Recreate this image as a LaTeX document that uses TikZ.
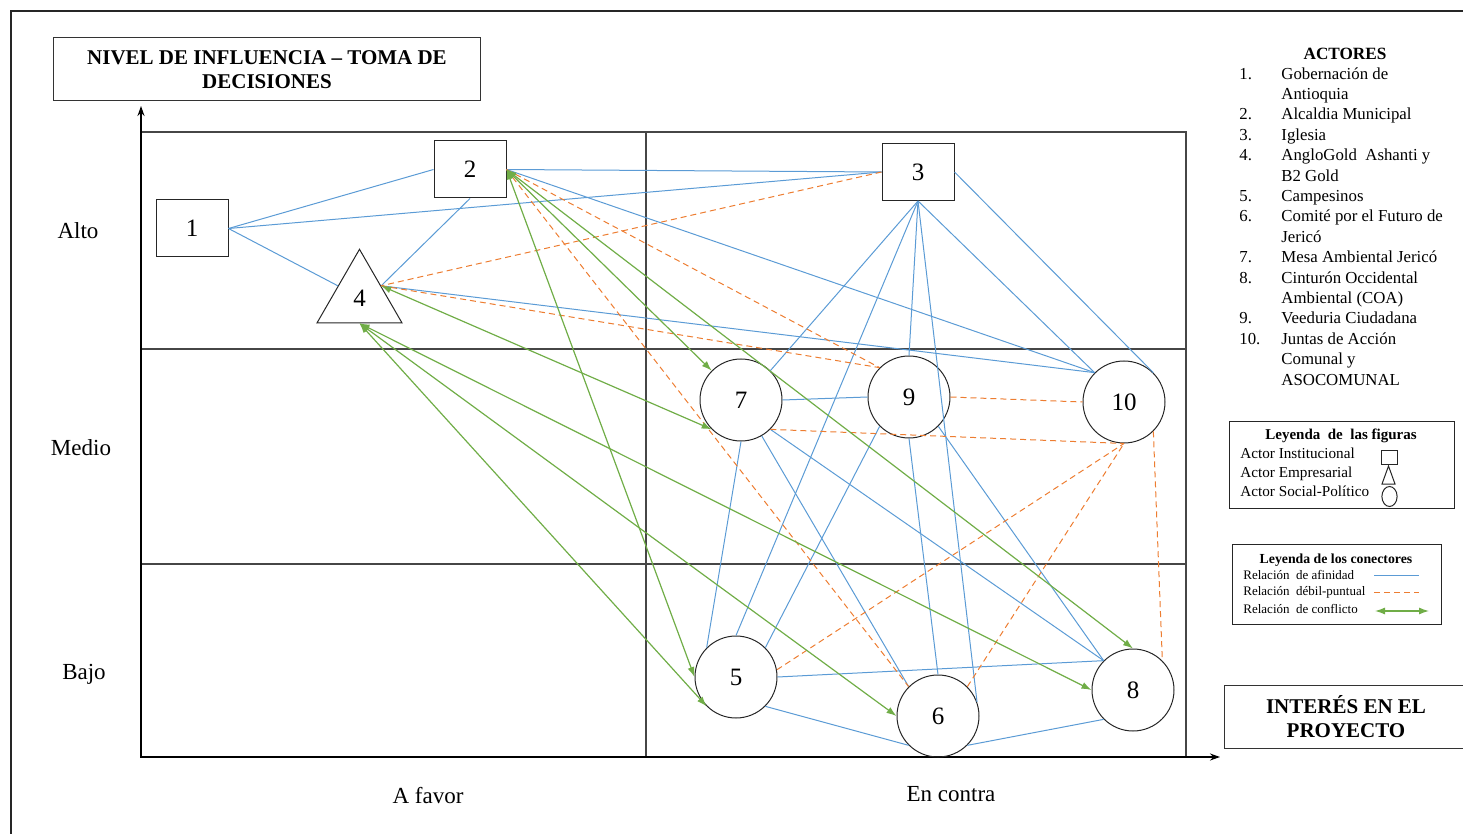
\documentclass[tikz,border=0pt]{standalone}
\usepackage{fontspec}
\setmainfont{Liberation Serif}
\usetikzlibrary{shapes.geometric,arrows.meta}
\definecolor{azul}{RGB}{91,155,213}
\definecolor{naranja}{RGB}{237,125,49}
\definecolor{verde}{RGB}{112,173,71}
\definecolor{gris}{RGB}{70,70,70}
\tikzstyle{institucional} = [draw=black!85,line width=0.5pt,minimum width=36pt,minimum height=28.5pt,inner sep=0pt,font=\fontsize{12.5}{15}\selectfont]
\tikzstyle{empresarial} = [draw=black!85,line width=0.5pt,regular polygon,regular polygon sides=3,minimum size=49pt,inner sep=0pt,font=\fontsize{12.5}{15}\selectfont]
\tikzstyle{social} = [draw=black!85,line width=0.5pt,circle,minimum size=41pt,inner sep=0pt,font=\fontsize{12.5}{15}\selectfont]
\tikzstyle{nivel} = [font=\fontsize{11.5}{14}\selectfont]
\tikzstyle{titulo} = [draw=black!80,line width=0.5pt,align=center,font=\bfseries\fontsize{10.5}{12.25}\selectfont]
\tikzstyle{lista} = [anchor=west,inner sep=0pt,text height=6pt,text depth=1.8pt,font=\fontsize{8.4}{10}\selectfont]
\tikzstyle{leyenda} = [anchor=west,inner sep=0pt,text height=5.5pt,text depth=1.6pt,font=\fontsize{7.6}{9}\selectfont]
\tikzstyle{leyendacon} = [anchor=west,inner sep=0pt,text height=5pt,text depth=1.4pt,font=\fontsize{6.5}{8}\selectfont]
\tikzstyle{afin} = [azul,line width=0.5pt]
\tikzstyle{puntual} = [naranja,line width=0.5pt,dash pattern=on 3pt off 2pt]
\tikzstyle{conflicto} = [verde,line width=0.6pt,{Latex[length=5pt,width=3.5pt]}-{Latex[length=5pt,width=3.5pt]}]
\tikzstyle{rejilla} = [gris,line width=0.7pt]
\tikzstyle{eje} = [black,line width=1pt,-{Stealth[length=5pt,width=3.5pt]}]

\begin{document}
\begin{tikzpicture}[x=0.5pt,y=-0.5pt]
	\useasboundingbox (0,0) rectangle (1463,834);
	\draw[black!85,line width=1pt] (11,840) -- (11,11) -- (1470,11);
	% cuadrantes y ejes
	\draw[rejilla] (141,132) -- (1186,132) -- (1186,757);
	\draw[rejilla] (141,349) -- (1186,349);
	\draw[rejilla] (141,564) -- (1186,564);
	\draw[rejilla] (646,132) -- (646,757);
	\draw[eje] (141,757.5) -- (141,106);
	\draw[eje] (140.5,757) -- (1220,757);
	\node[titulo,minimum width=213.5pt,minimum height=31.5pt] (influencia) at (267,69.5) {NIVEL DE INFLUENCIA – TOMA DE\\DECISIONES};
	\node[titulo,minimum width=122pt,minimum height=31.5pt] (interes) at (1346,716.5) {INTERÉS EN EL\\PROYECTO};
	\node[nivel] (alto) at (78,231) {Alto};
	\node[nivel] (medio) at (81,448) {Medio};
	\node[nivel] (bajo) at (84,674) {Bajo};
	\node[nivel] (afavor) at (428,796) {A favor};
	\node[nivel] (encontra) at (951,794) {En contra};
	% actores
	\node[institucional] (n1) at (192,228.5) {1};
	\node[institucional] (n2) at (470,169.5) {2};
	\node[institucional] (n3) at (918,172) {3};
	\node[empresarial] (n4) at (359.5,298.3) {4};
	\node[social] (n7) at (741,400) {7};
	\node[social] (n9) at (909,397) {9};
	\node[social] (n10) at (1124,402) {10};
	\node[social] (n5) at (736,677) {5};
	\node[social] (n6) at (938,716) {6};
	\node[social] (n8) at (1133,690) {8};
	% relacion de afinidad
	\draw[afin] (n1.east) -- (n2.west);
	\draw[afin] (n1.east) -- (n3.west);
	\draw[afin] (n1.east) -- (n4.side 1);
	\draw[afin] (n2.south) -- (n4.side 3);
	\draw[afin] (n2.east) -- (n3.west);
	\draw[afin] (n2.east) -- (n10.north west);
	\draw[afin] (n4.side 3) -- (n10.north west);
	\draw[afin] (n3.south) -- (n7.north east);
	\draw[afin] (n3.south) -- (n5.north);
	\draw[afin] (n3.south) -- (n9.north);
	\draw[afin] (n3.south) -- (n6.20);
	\draw[afin] (n3.south) -- (n10.north west);
	\draw[afin] (n3.east) -- (n10.north east);
	\draw[afin] (n7.east) -- (n9.west);
	\draw[afin] (n7.south) -- (n5.north west);
	\draw[afin] (n7.-60) -- (n6.north west);
	\draw[afin] (n7.south east) -- (n8.north west);
	\draw[afin] (n9.south west) -- (n5.north east);
	\draw[afin] (n9.south) -- (n6.north);
	\draw[afin] (n9.south east) -- (n8.north west);
	\draw[afin] (n5.east) -- (n8.north west);
	\draw[afin] (n5.south east) -- (n6.south west);
	\draw[afin] (n6.south east) -- (n8.south west);
	% relacion debil-puntual
	\draw[puntual] (n3.west) -- (n4.side 3);
	\draw[puntual] (n2.east) -- (n9.north west);
	\draw[puntual] (n4.side 3) -- (n9.north west);
	\draw[puntual] (n2.east) -- (n6.north west);
	\draw[puntual] (n9.east) -- (n10.west);
	\draw[puntual] (n7.south east) -- (n10.south);
	\draw[puntual] (n5.10) -- (n10.south);
	\draw[puntual] (n6.north east) -- (n10.south);
	\draw[puntual] (n10.south east) -- (n8.north east);
	% relacion de conflicto
	\draw[conflicto] (n2.east) -- (n5.west);
	\draw[conflicto] (n2.east) -- (n7.north west);
	\draw[conflicto] (n2.east) -- (n8.north);
	\draw[conflicto] (n4.side 3) -- (n7.south west);
	\draw[conflicto] (n4.side 2) -- (n5.south west);
	\draw[conflicto] (n4.side 2) -- (n6.west);
	\draw[conflicto] (n4.side 2) -- (n8.west);
	% lista de actores
	\node[font=\bfseries\fontsize{8.6}{10}\selectfont] (actores) at (1345,54) {ACTORES};
	\node[lista] (num1) at (1239,75) {1.};
	\node[lista] (num2) at (1239,115.8) {2.};
	\node[lista] (num3) at (1239,136.2) {3.};
	\node[lista] (num4) at (1239,156.6) {4.};
	\node[lista] (num5) at (1239,197.4) {5.};
	\node[lista] (num6) at (1239,217.8) {6.};
	\node[lista] (num7) at (1239,258.6) {7.};
	\node[lista] (num8) at (1239,279) {8.};
	\node[lista] (num9) at (1239,319.8) {9.};
	\node[lista] (num10) at (1239,340.2) {10.};
	\node[lista] (act1a) at (1281,75) {Gobernación de};
	\node[lista] (act1b) at (1281,95.4) {Antioquia};
	\node[lista] (act2) at (1281,115.8) {Alcaldia Municipal};
	\node[lista] (act3) at (1281,136.2) {Iglesia};
	\node[lista] (act4a) at (1281,156.6) {AngloGold\ \ Ashanti y};
	\node[lista] (act4b) at (1281,177) {B2 Gold};
	\node[lista] (act5) at (1281,197.4) {Campesinos};
	\node[lista] (act6a) at (1281,217.8) {Comité por el Futuro de};
	\node[lista] (act6b) at (1281,238.2) {Jericó};
	\node[lista] (act7) at (1281,258.6) {Mesa Ambiental Jericó};
	\node[lista] (act8a) at (1281,279) {Cinturón Occidental};
	\node[lista] (act8b) at (1281,299.4) {Ambiental (COA)};
	\node[lista] (act9) at (1281,319.8) {Veeduria Ciudadana};
	\node[lista] (act10a) at (1281,340.2) {Juntas de Acción};
	\node[lista] (act10b) at (1281,360.6) {Comunal y};
	\node[lista] (act10c) at (1281,381) {ASOCOMUNAL};
	% leyenda de las figuras
	\node[draw=black!85,line width=0.5pt,minimum width=112.5pt,minimum height=43pt] (legfig) at (1341.5,465) {};
	\node[font=\bfseries\fontsize{7.5}{9}\selectfont] (legfigtit) at (1341,436) {Leyenda\ \ de\ \ las figuras};
	\node[leyenda] (linst) at (1240,455) {Actor Institucional};
	\node[leyenda] (lemp) at (1240,473.5) {Actor Empresarial};
	\node[leyenda] (lsoc) at (1240,492.5) {Actor Social-Político};
	\draw[black!85,line width=0.5pt] (1381,450) rectangle (1397,464);
	\draw[black!85,line width=0.5pt] (1382,484) -- (1388.5,466) -- (1395,484) -- cycle;
	\draw[black!85,line width=0.5pt] (1389.5,496.5) ellipse [x radius=3.8pt,y radius=5pt];
	% leyenda de los conectores
	\node[draw=black!85,line width=0.5pt,minimum width=104.5pt,minimum height=40pt] (legcon) at (1336.5,584) {};
	\node[font=\bfseries\fontsize{6.9}{8}\selectfont] (legcontit) at (1336,560) {Leyenda de los conectores};
	\node[leyendacon] (lafin) at (1243,576) {Relación\ \ de afinidad};
	\node[leyendacon] (ldeb) at (1243,592) {Relación\ \ débil-puntual};
	\node[leyendacon] (lconf) at (1243,610) {Relación\ \ de conflicto};
	\draw[afin] (1374,575) -- (1419,575);
	\draw[puntual] (1374,592) -- (1419,592);
	\draw[conflicto] (1375,611) -- (1429,611);
\end{tikzpicture}
\end{document}
